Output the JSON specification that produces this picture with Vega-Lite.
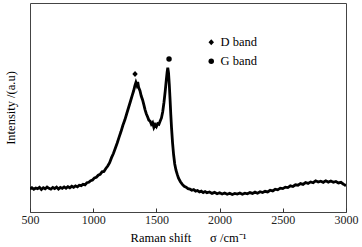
{
  "$schema": "https://vega.github.io/schema/vega-lite/v6.json",
  "width": 316,
  "height": 209,
  "autosize": {"type": "none"},
  "padding": {"left": 30, "top": 3, "right": 16, "bottom": 35},
  "background": "white",
  "config": {
    "view": {"stroke": "#444", "strokeWidth": 1},
    "font": "Liberation Serif"
  },
  "datasets": {
    "spectrum": [
      {"x":500,"y":11.0},{"x":515,"y":11.6},{"x":530,"y":10.9},{"x":545,"y":11.5},{"x":560,"y":11.2},{"x":575,"y":11.8},{"x":590,"y":10.8},{"x":605,"y":11.6},{"x":620,"y":11.1},{"x":635,"y":11.9},{"x":650,"y":11.3},{"x":665,"y":10.9},{"x":680,"y":11.7},{"x":695,"y":11.2},{"x":710,"y":11.9},{"x":725,"y":11.0},{"x":740,"y":11.8},{"x":755,"y":11.3},{"x":770,"y":12.0},{"x":785,"y":11.4},{"x":800,"y":12.1},{"x":815,"y":11.6},{"x":830,"y":12.3},{"x":845,"y":11.8},{"x":860,"y":12.5},{"x":875,"y":12.0},{"x":890,"y":12.8},{"x":905,"y":12.6},{"x":920,"y":13.3},{"x":935,"y":13.0},{"x":950,"y":14.0},{"x":965,"y":14.2},{"x":980,"y":15.0},{"x":995,"y":15.3},{"x":1010,"y":16.3},{"x":1025,"y":16.6},{"x":1040,"y":17.6},{"x":1055,"y":18.0},{"x":1070,"y":19.2},{"x":1085,"y":19.4},{"x":1100,"y":20.8},{"x":1115,"y":22.0},{"x":1130,"y":23.6},{"x":1145,"y":26.0},{"x":1160,"y":28.0},{"x":1175,"y":30.5},{"x":1190,"y":33.0},{"x":1205,"y":35.8},{"x":1220,"y":38.5},{"x":1235,"y":41.5},{"x":1250,"y":44.0},{"x":1265,"y":47.0},{"x":1280,"y":50.0},{"x":1295,"y":53.0},{"x":1310,"y":56.0},{"x":1320,"y":58.0},{"x":1330,"y":60.5},{"x":1338,"y":62.0},{"x":1345,"y":60.8},{"x":1352,"y":62.2},{"x":1360,"y":59.5},{"x":1370,"y":58.0},{"x":1380,"y":55.5},{"x":1391,"y":53.6},{"x":1400,"y":51.5},{"x":1410,"y":49.0},{"x":1420,"y":47.0},{"x":1430,"y":45.6},{"x":1440,"y":44.0},{"x":1450,"y":43.5},{"x":1460,"y":42.0},{"x":1470,"y":42.8},{"x":1480,"y":40.5},{"x":1490,"y":41.8},{"x":1500,"y":40.9},{"x":1510,"y":42.3},{"x":1520,"y":42.0},{"x":1530,"y":43.5},{"x":1540,"y":45.0},{"x":1550,"y":48.0},{"x":1560,"y":52.5},{"x":1570,"y":58.0},{"x":1578,"y":63.0},{"x":1585,"y":67.0},{"x":1590,"y":69.0},{"x":1596,"y":66.5},{"x":1602,"y":61.0},{"x":1608,"y":54.0},{"x":1614,"y":46.5},{"x":1620,"y":40.0},{"x":1628,"y":33.0},{"x":1636,"y":27.5},{"x":1645,"y":23.0},{"x":1655,"y":20.0},{"x":1665,"y":18.0},{"x":1675,"y":16.2},{"x":1690,"y":14.5},{"x":1705,"y":13.2},{"x":1720,"y":12.3},{"x":1735,"y":11.9},{"x":1750,"y":11.2},{"x":1765,"y":11.0},{"x":1780,"y":10.4},{"x":1795,"y":10.7},{"x":1810,"y":10.0},{"x":1825,"y":10.3},{"x":1840,"y":9.6},{"x":1855,"y":10.0},{"x":1870,"y":9.3},{"x":1885,"y":9.8},{"x":1900,"y":9.2},{"x":1920,"y":9.6},{"x":1940,"y":8.9},{"x":1960,"y":9.4},{"x":1980,"y":8.7},{"x":2000,"y":9.2},{"x":2020,"y":8.6},{"x":2040,"y":9.1},{"x":2060,"y":8.5},{"x":2080,"y":9.0},{"x":2100,"y":8.4},{"x":2120,"y":8.9},{"x":2140,"y":8.6},{"x":2160,"y":9.1},{"x":2180,"y":8.5},{"x":2200,"y":9.0},{"x":2220,"y":8.7},{"x":2240,"y":9.3},{"x":2260,"y":8.9},{"x":2280,"y":9.5},{"x":2300,"y":9.0},{"x":2320,"y":9.7},{"x":2340,"y":9.3},{"x":2360,"y":9.9},{"x":2380,"y":9.6},{"x":2400,"y":10.4},{"x":2420,"y":10.1},{"x":2440,"y":10.9},{"x":2460,"y":10.6},{"x":2480,"y":11.4},{"x":2500,"y":11.2},{"x":2520,"y":11.9},{"x":2540,"y":11.7},{"x":2560,"y":12.5},{"x":2580,"y":12.2},{"x":2600,"y":13.0},{"x":2620,"y":12.8},{"x":2640,"y":13.6},{"x":2660,"y":13.2},{"x":2680,"y":14.1},{"x":2700,"y":13.7},{"x":2720,"y":14.4},{"x":2740,"y":14.0},{"x":2760,"y":14.9},{"x":2780,"y":14.3},{"x":2800,"y":14.7},{"x":2820,"y":14.2},{"x":2840,"y":14.9},{"x":2860,"y":14.3},{"x":2880,"y":14.8},{"x":2900,"y":14.2},{"x":2920,"y":14.6},{"x":2940,"y":13.9},{"x":2960,"y":14.2},{"x":2980,"y":13.3},{"x":2990,"y":13.0},{"x":3000,"y":12.4}
    ],
    "bands": [
      {"x": 1331, "y": 66.0, "band": "D band"},
      {"x": 1600, "y": 73.2, "band": "G band"}
    ]
  },
  "layer": [
    {
      "data": {"name": "spectrum"},
      "mark": {"type": "line", "color": "black", "strokeWidth": 2.8, "clip": true},
      "encoding": {
        "x": {
          "field": "x", "type": "quantitative",
          "scale": {"domain": [500, 3000], "nice": false, "zero": false},
          "axis": {
            "title": "Raman shift\u2003\u2002σ /cm⁻¹",
            "titleFont": "Liberation Serif", "titleFontSize": 12.5, "titleFontWeight": "normal", "titleColor": "black",
            "titlePadding": 6,
            "values": [500, 750, 1000, 1250, 1500, 1750, 2000, 2250, 2500, 2750, 3000],
            "labelExpr": "datum.value % 500 === 0 ? datum.label : ''",
            "format": "d",
            "labelFont": "Liberation Serif", "labelFontSize": 12, "labelColor": "#222",
            "labelFlush": false, "labelOverlap": false,
            "labelPadding": 6,
            "tickSize": -4, "tickColor": "#333", "tickWidth": 1,
            "domain": false, "grid": false
          }
        },
        "y": {
          "field": "y", "type": "quantitative",
          "scale": {"domain": [0, 100], "nice": false},
          "axis": {
            "title": "Intensity /(a.u)",
            "titleFont": "Liberation Serif", "titleFontSize": 12.5, "titleFontWeight": "normal", "titleColor": "black",
            "titlePadding": 13,
            "labels": false, "ticks": false, "domain": false, "grid": false
          }
        }
      }
    },
    {
      "data": {"name": "bands"},
      "mark": {"type": "point", "filled": true, "color": "black", "size": 30, "opacity": 1},
      "encoding": {
        "x": {"field": "x", "type": "quantitative"},
        "y": {"field": "y", "type": "quantitative"},
        "shape": {
          "field": "band", "type": "nominal",
          "scale": {"domain": ["D band", "G band"], "range": ["M0,-1.1L1,0L0,1.1L-1,0Z", "circle"]},
          "legend": {
            "title": null,
            "orient": "none",
            "legendX": 175,
            "legendY": 33,
            "padding": 0,
            "labelFont": "Liberation Serif", "labelFontSize": 12.5, "labelColor": "black",
            "labelOffset": 3,
            "rowPadding": 6,
            "symbolSize": 30,
            "symbolFillColor": "black",
            "symbolStrokeColor": "black",
            "symbolStrokeWidth": 0
          }
        }
      }
    }
  ]
}
